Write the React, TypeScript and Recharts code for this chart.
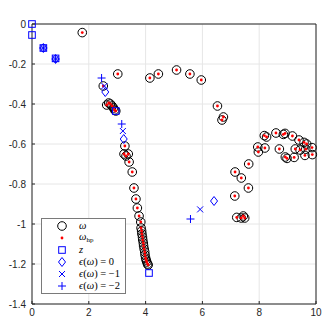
import React from 'react';
import {
  ScatterChart,
  Scatter,
  XAxis,
  YAxis,
  CartesianGrid,
  Legend,
  ReferenceLine,
} from 'recharts';

// omega (black circles) and omega_hp (red dots) sit on the same points
const omegaRe = [
  1.77, 2.51, 2.63, 2.7, 2.76, 2.82, 2.87, 2.91, 2.95, 3.02,
  3.27, 3.24, 3.39, 3.31, 3.42, 3.53, 3.59, 3.66, 3.71, 3.77, 3.83,
  3.84, 3.86, 3.87, 3.89, 3.9, 3.92, 3.93, 3.95, 3.97, 3.98, 4.0, 4.02, 4.04, 4.07, 4.09,
  4.15, 4.45, 5.09, 5.56, 5.96, 6.53, 6.74, 6.69,
  7.63, 7.15, 7.37, 7.62, 7.14, 7.21, 7.37, 7.44, 7.49,
  7.95, 7.97, 8.2, 8.18, 8.26, 8.59, 8.85, 8.91, 8.71, 8.92, 8.98,
  9.23, 9.17, 9.27, 9.4, 9.44, 9.58, 9.67, 9.64, 9.61, 9.86, 9.87,
];
const omegaIm = [
  -0.043, -0.31, -0.405, -0.395, -0.4, -0.41, -0.42, -0.43, -0.435, -0.25,
  -0.61, -0.65, -0.65, -0.66, -0.69, -0.74, -0.82, -0.875, -0.92, -0.96, -0.99,
  -1.02, -1.035, -1.05, -1.065, -1.08, -1.095, -1.11, -1.125, -1.14, -1.155, -1.17, -1.18, -1.19, -1.2, -1.205,
  -0.27, -0.25, -0.23, -0.25, -0.28, -0.41, -0.465, -0.48,
  -0.7, -0.74, -0.77, -0.82, -0.86, -0.967, -0.97, -0.96, -0.97,
  -0.615, -0.64, -0.62, -0.558, -0.565, -0.545, -0.552, -0.547, -0.625, -0.665, -0.672,
  -0.667, -0.56, -0.625, -0.58, -0.63, -0.592, -0.6, -0.626, -0.657, -0.618, -0.653,
];

const zRe = [0, 0, 0.4, 0.83, 2.95, 4.12];
const zIm = [0, -0.055, -0.12, -0.172, -0.435, -1.245];

const eps0Re = [0.4, 0.83, 2.58, 3.23, 6.41];
const eps0Im = [-0.12, -0.175, -0.34, -0.575, -0.885];

const epsM1Re = [0.4, 0.83, 2.55, 3.2, 5.92];
const epsM1Im = [-0.12, -0.175, -0.31, -0.535, -0.927];

const epsM2Re = [0.4, 0.83, 2.45, 3.16, 5.58];
const epsM2Im = [-0.12, -0.175, -0.27, -0.5, -0.975];

const xTicks = [0, 2, 4, 6, 8, 10];
const yTicks = [0, -0.2, -0.4, -0.6, -0.8, -1, -1.2, -1.4];

const toPoints = (re: number[], im: number[]) => re.map((x, i) => ({ x, y: im[i] }));

const BLUE = '#0000ff';
const AXIS = '#262626';

type Kind = 'circle' | 'dot' | 'square' | 'diamond' | 'x' | 'plus';

function Marker({ kind, cx, cy }: { kind: Kind; cx: number; cy: number }) {
  switch (kind) {
    case 'circle':
      return <circle cx={cx} cy={cy} r={4.3} fill="none" stroke="#000" strokeWidth={1} />;
    case 'dot':
      return <circle cx={cx} cy={cy} r={1.4} fill="#ff0000" />;
    case 'square':
      return <rect x={cx - 3.3} y={cy - 3.3} width={6.6} height={6.6} fill="none" stroke={BLUE} strokeWidth={1} />;
    case 'diamond':
      return (
        <path d={`M${cx},${cy - 4.5}L${cx + 3.5},${cy}L${cx},${cy + 4.5}L${cx - 3.5},${cy}Z`} fill="none" stroke={BLUE} strokeWidth={1} />
      );
    case 'x':
      return (
        <path d={`M${cx - 3},${cy - 3}L${cx + 3},${cy + 3}M${cx - 3},${cy + 3}L${cx + 3},${cy - 3}`} stroke={BLUE} strokeWidth={1} />
      );
    default:
      return (
        <path d={`M${cx - 4},${cy}L${cx + 4},${cy}M${cx},${cy - 4}L${cx},${cy + 4}`} stroke={BLUE} strokeWidth={1} />
      );
  }
}

const series: { name: string; kind: Kind; data: { x: number; y: number }[] }[] = [
  { name: 'omega', kind: 'circle', data: toPoints(omegaRe, omegaIm) },
  { name: 'omegaHp', kind: 'dot', data: toPoints(omegaRe, omegaIm) },
  { name: 'z', kind: 'square', data: toPoints(zRe, zIm) },
  { name: 'eps0', kind: 'diamond', data: toPoints(eps0Re, eps0Im) },
  { name: 'epsM1', kind: 'x', data: toPoints(epsM1Re, epsM1Im) },
  { name: 'epsM2', kind: 'plus', data: toPoints(epsM2Re, epsM2Im) },
];

const mathFont = '"Liberation Serif", "DejaVu Serif", serif';

const labels: Record<string, React.ReactNode> = {
  omega: <i>ω</i>,
  omegaHp: (
    <span>
      <i>ω</i>
      <sub style={{ fontSize: 7, verticalAlign: -2, color: '#000' }}>hp</sub>
    </span>
  ),
  z: <i>z</i>,
  eps0: <span><i>ϵ</i>(<i>ω</i>) = 0</span>,
  epsM1: <span><i>ϵ</i>(<i>ω</i>) = −1</span>,
  epsM2: <span><i>ϵ</i>(<i>ω</i>) = −2</span>,
};

const renderLegend = () => (
  <div
    style={{
      width: 85,
      height: 76,
      boxSizing: 'border-box',
      border: '1px solid #7a7a7a',
      background: '#fff',
      paddingTop: 1,
    }}
  >
    {series.map((s) => (
      <div
        key={s.name}
        style={{
          display: 'flex',
          alignItems: 'center',
          height: 12,
          fontFamily: mathFont,
          fontSize: 10.5,
          color: '#000',
          lineHeight: '12px',
          whiteSpace: 'nowrap',
        }}
      >
        <svg width={37} height={12} style={{ flex: 'none' }}>
          <Marker kind={s.kind} cx={20} cy={6} />
        </svg>
        {labels[s.name]}
      </div>
    ))}
  </div>
);

const XTick = (props: any) => {
  const { x, y, payload } = props;
  return (
    <g>
      <line x1={x} y1={y - 5} x2={x} y2={y - 8} stroke={AXIS} />
      <text x={x} y={y} dy="0.71em" textAnchor="middle" fontSize={10} fill={AXIS} fontFamily="Liberation Sans, Arial, sans-serif">
        {payload.value}
      </text>
    </g>
  );
};

const YTick = (props: any) => {
  const { x, y, payload } = props;
  return (
    <g>
      <line x1={x + 6} y1={y} x2={x + 9} y2={y} stroke={AXIS} />
      <text x={x} y={y} dy="0.355em" textAnchor="end" fontSize={10} fill={AXIS} fontFamily="Liberation Sans, Arial, sans-serif">
        {payload.value}
      </text>
    </g>
  );
};

export default function App() {
  return (
    <div style={{ position: 'absolute', left: 0, top: 0, background: '#fff' }}>
      <ScatterChart width={325} height={325} margin={{ top: 24, right: 9, bottom: 0, left: 0 }}>
        <CartesianGrid stroke="#e6e6e6" />
        <XAxis
          type="number"
          dataKey="x"
          domain={[0, 10]}
          ticks={xTicks}
          height={21}
          tickSize={0}
          tickMargin={5}
          tick={<XTick />}
          axisLine={{ stroke: AXIS }}
        />
        <YAxis
          type="number"
          dataKey="y"
          domain={[-1.4, 0]}
          ticks={yTicks}
          width={32}
          tickSize={0}
          tickMargin={6}
          tick={<YTick />}
          axisLine={{ stroke: AXIS }}
        />
        <ReferenceLine y={0} stroke={AXIS} />
        <ReferenceLine x={10} stroke={AXIS} />
        {series.map((s) => (
          <Scatter
            key={s.name}
            name={s.name}
            data={s.data}
            isAnimationActive={false}
            shape={(p: any) => <Marker kind={s.kind} cx={p.cx} cy={p.cy} />}
          />
        ))}
        <Legend
          layout="vertical"
          align="center"
          verticalAlign="middle"
          content={renderLegend}
          wrapperStyle={{ left: 41, top: 218, width: 85, height: 76 }}
        />
      </ScatterChart>
    </div>
  );
}
